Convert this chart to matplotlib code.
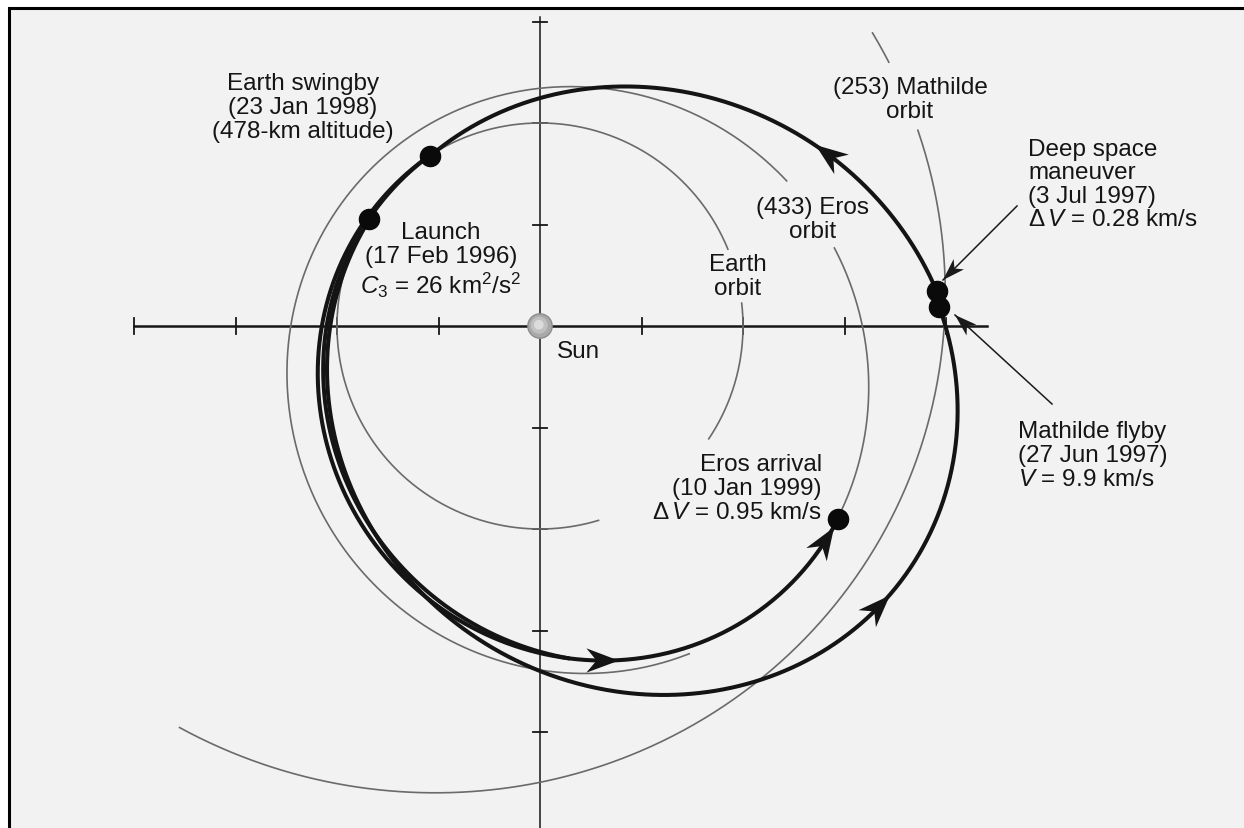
import numpy as np
import matplotlib.pyplot as plt
from matplotlib.patches import Polygon, Circle, Rectangle

plt.rcParams['font.family'] = ['Liberation Sans', 'DejaVu Sans']
plt.rcParams['mathtext.fontset'] = 'custom'
plt.rcParams['mathtext.rm'] = 'Liberation Sans'
plt.rcParams['mathtext.it'] = 'Liberation Sans:italic'
plt.rcParams['mathtext.bf'] = 'Liberation Sans:bold'

# heliocentric orbits (AU, deg): semi-latus rectum, eccentricity, perihelion longitude
orbit_names = ["Earth", "(433) Eros", "(253) Mathilde"]
orbit_p = [1.000, 1.385, 2.427]
orbit_e = [0.000, 0.223, 0.233]
orbit_w = [0.0, 125.0, -20.0]
# longitudes actually drawn, gaps leave room for the labels
orbit_arcs = [[(-34, 6.7), (22, 287)],
              [(-33, 15), (30.3, 294.6)],
              [(-132, 27.5), (37, 41.5)]]

# NEAR trajectory legs: launch->Mathilde, DSM->Earth swingby, swingby->Eros, swingby (second track)
leg_p = [1.362, 1.340, 1.276, 1.289]
leg_e = [0.375, 0.387, 0.280, 0.300]
leg_w = [148.0, 150.0, 132.0, 139.0]
leg_from = [148.0, 5.0, 123.0, 123.0]
leg_to = [362.7, 123.0, 327.1, 275.0]
leg_arrows = [[320.3], [30.7], [280.6, 323.0], []]

# events: which leg they sit on and at what longitude
event_names = ["Launch", "Deep space maneuver", "Mathilde flyby", "Earth swingby", "Eros arrival"]
event_leg = [0, 1, 0, 1, 2]
event_lon = [148.0, 5.0, 362.7, 123.0, 327.1]

ticks_x = [-2.0, -1.5, -1.0, -0.5, 0.5, 1.0, 1.5, 2.0]
ticks_y = [1.5, 1.0, 0.5, -0.5, -1.0, -1.5, -2.0]

W, H, S = 1244, 829, 203.0      # picture px, px per AU
SX, SY = 540, 327               # Sun position in px


def P(x, y):
    # picture pixel -> AU
    return (x - SX) / S, (SY - y) / S


def conic(p, e, w, lon):
    t = np.radians(lon)
    r = p / (1 + e * np.cos(t - np.radians(w)))
    return r * np.cos(t), r * np.sin(t)


fig = plt.figure(figsize=(W / 100, H / 100), dpi=100)
fig.patch.set_facecolor('white')
ax = fig.add_axes([0, 0, 1, 1])
ax.set_xlim(-SX / S, (W - SX) / S)
ax.set_ylim(-(H - SY) / S, SY / S)
ax.axis('off')

x0, y0 = P(9, H + 10)
x1, y1 = P(W + 10, 9)
ax.add_patch(Rectangle((x0, y0), x1 - x0, y1 - y0, fc='#f2f2f2', ec='black', lw=2.2, zorder=0))

# axes through the Sun
ax.plot([-2.0, 2.2], [0, 0], color='#161616', lw=1.8, zorder=2)
ax.plot([0, 0], [1.52, -2.6], color='#161616', lw=1.1, zorder=2)
for t in ticks_x:
    ax.plot([t, t], [-0.04, 0.04], color='#161616', lw=1.3, zorder=2)
for t in ticks_y:
    ax.plot([-0.035, 0.035], [t, t], color='#161616', lw=1.3, zorder=2)

# planet / asteroid orbits
for p, e, w, arcs in zip(orbit_p, orbit_e, orbit_w, orbit_arcs):
    for a, b in arcs:
        lon = np.linspace(a, b, 400)
        x, y = conic(p, e, w, lon)
        ax.plot(x, y, color='#6a6a6a', lw=1.2, zorder=3, solid_capstyle='butt')


def arrowhead(x, y, dx, dy, L=0.16, wd=0.06, notch=0.05, fc='#141414'):
    u = np.array([dx, dy]) / np.hypot(dx, dy)
    n = np.array([-u[1], u[0]])
    tip = np.array([x, y]) + u * L * 0.5
    back = tip - u * L
    pts = np.array([tip, back - n * wd, tip - u * (L - notch), back + n * wd])
    ax.add_patch(Polygon(pts, closed=True, fc=fc, ec='none', zorder=6))


# trajectory
for i in range(len(leg_p)):
    lon = np.linspace(leg_from[i], leg_to[i], 600)
    x, y = conic(leg_p[i], leg_e[i], leg_w[i], lon)
    ax.plot(x, y, color='#141414', lw=2.9, zorder=4, solid_capstyle='round')
    for la in leg_arrows[i]:
        xa, ya = conic(leg_p[i], leg_e[i], leg_w[i], np.array([la - 0.5, la, la + 0.5]))
        arrowhead(xa[1], ya[1], xa[2] - xa[0], ya[2] - ya[0])

for k, lon in zip(event_leg, event_lon):
    x, y = conic(leg_p[k], leg_e[k], leg_w[k], lon)
    ax.plot(x, y, 'o', ms=14.5, color='#0a0a0a', zorder=7)

# Sun
ax.add_patch(Circle((0, 0), 0.060, fc='#a9a9a9', ec='#8c8c8c', lw=1.0, zorder=8))
ax.add_patch(Circle((-0.004, 0.004), 0.042, fc='#c0c0c0', ec='none', zorder=8))
ax.add_patch(Circle((-0.006, 0.006), 0.024, fc='#dcdcdc', ec='none', zorder=8))


def pointer(xt, yt, xh, yh):
    a, b = P(xt, yt)
    c, d = P(xh, yh)
    ax.plot([a, c], [b, d], color='#1a1a1a', lw=1.1, zorder=6)
    L = 0.11
    u = np.array([c - a, d - b]) / np.hypot(c - a, d - b)
    arrowhead(c - u[0] * L / 2, d - u[1] * L / 2, c - a, d - b, L=L, wd=0.036, notch=0.03, fc='#1a1a1a')


pointer(1017, 207, 943, 281)
pointer(1052, 405, 955, 316)

fs = 17.5
kw = dict(fontsize=fs, color='#151515', linespacing=1.12, zorder=9)
ax.text(*P(303, 108), "Earth swingby\n(23 Jan 1998)\n(478-km altitude)", ha='center', va='center', **kw)
ax.text(*P(441, 261), "Launch\n(17 Feb 1996)\n$C_3$ = 26 km$^2$/s$^2$", ha='center', va='center', **kw)
ax.text(*P(557, 352), "Sun", ha='left', va='center', **kw)
ax.text(*P(738, 277), "Earth\norbit", ha='center', va='center', **kw)
ax.text(*P(813, 220), "(433) Eros\norbit", ha='center', va='center', **kw)
ax.text(*P(910, 100), "(253) Mathilde\norbit", ha='center', va='center', **kw)
ax.text(*P(1028, 185), "Deep space\nmaneuver\n(3 Jul 1997)\n$\\Delta\\,V$ = 0.28 km/s", ha='left', va='center',
        **dict(kw, linespacing=1.08))
ax.text(*P(1018, 456), "Mathilde flyby\n(27 Jun 1997)\n$V$ = 9.9 km/s", ha='left', va='center', **kw)
ax.text(*P(822, 489), "Eros arrival\n(10 Jan 1999)\n$\\Delta\\,V$ = 0.95 km/s", ha='right', va='center',
        multialignment='right', **kw)

fig.savefig('out.png', dpi=100, facecolor='white')
